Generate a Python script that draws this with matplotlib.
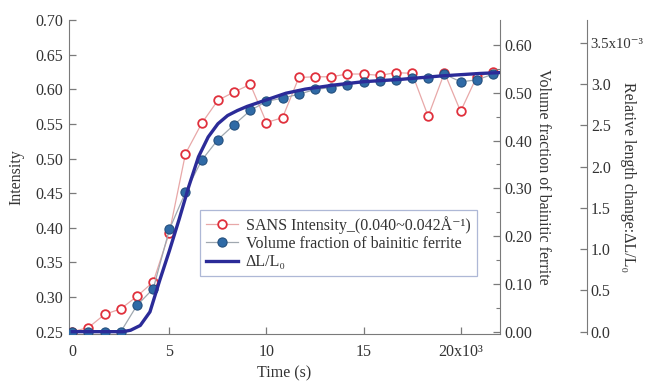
import numpy as np
import matplotlib.pyplot as plt

plt.rcParams['font.family'] = ['Liberation Serif', 'DejaVu Serif']
plt.rcParams['mathtext.fontset'] = 'stix'

# time in 10^3 s
time = [0.0, 0.83, 1.67, 2.5, 3.33, 4.17, 5.0, 5.83, 6.67, 7.5, 8.33, 9.17, 10.0,
        10.83, 11.67, 12.5, 13.33, 14.17, 15.0, 15.83, 16.67, 17.5, 18.33, 19.17,
        20.0, 20.83, 21.67]

# SANS intensity (left axis)
sans = [0.250, 0.256, 0.275, 0.283, 0.301, 0.322, 0.393, 0.507, 0.551, 0.584, 0.596,
        0.607, 0.552, 0.559, 0.617, 0.618, 0.618, 0.622, 0.622, 0.620, 0.624, 0.623,
        0.561, 0.624, 0.568, 0.618, 0.625]

# volume fraction of bainitic ferrite (first right axis)
vfrac = [0.000, 0.000, 0.000, 0.000, 0.055, 0.090, 0.214, 0.292, 0.359, 0.402, 0.433,
         0.463, 0.482, 0.489, 0.497, 0.507, 0.511, 0.517, 0.523, 0.524, 0.526, 0.530,
         0.531, 0.539, 0.523, 0.527, 0.539]

# dilatometry dL/L0 in 10^-3 (second right axis)
dl_time = [0.0, 2.6, 3.0, 3.5, 4.0, 4.5, 5.0, 5.5, 6.0, 6.5, 7.0, 7.5, 8.0, 8.5, 9.0,
           10.0, 11.0, 12.0, 13.5, 15.0, 17.0, 19.0, 21.0, 22.0]
dl = [0.0, 0.0, 0.017, 0.075, 0.24, 0.62, 0.98, 1.36, 1.76, 2.12, 2.36, 2.52, 2.62,
      2.68, 2.73, 2.81, 2.89, 2.94, 2.99, 3.03, 3.06, 3.10, 3.13, 3.14]

x_labels = ['0', '5', '10', '15', '20x10³']
dl_labels = ['0.0', '0.5', '1.0', '1.5', '2.0', '2.5', '3.0', '3.5x10⁻³']

spine_col = '#7a7a7a'
text_col = '#333333'
fs = 11.5

fig = plt.figure(figsize=(6.46, 3.83), dpi=100)
ax = fig.add_axes([0.1068, 0.128, 0.6672, 0.8198])
ax2 = ax.twinx()
ax3 = ax.twinx()

l1, = ax.plot(time, sans, '-', color='#e8a8a8', lw=0.9, marker='o', ms=6.2,
              mfc='white', mec='#e0303c', mew=1.3, zorder=3)
l2, = ax2.plot(time, vfrac, '-', color='#a0a8b0', lw=0.9, marker='o', ms=6.6,
               mfc='#2f6aa6', mec='#24507e', mew=0.8, zorder=3)
l3, = ax3.plot(dl_time, dl, '-', color='#2b2b98', lw=2.4, zorder=4)

ax.set_xlim(-0.17, 22.03)
ax.set_ylim(0.2467, 0.70)
ax2.set_ylim(-0.0048, 0.6524)
ax3.set_ylim(-0.028, 3.778)

ax.set_xticks([0, 5, 10, 15, 20])
ax.set_xticklabels(x_labels)
ax.set_yticks(np.arange(0.25, 0.701, 0.05))
ax.set_yticklabels(['%.2f' % v for v in np.arange(0.25, 0.701, 0.05)])
ax2.set_yticks(np.arange(0.0, 0.61, 0.1))
ax2.set_yticklabels(['%.2f' % v for v in np.arange(0.0, 0.61, 0.1)])
ax2.set_yticks(np.arange(0.05, 0.61, 0.1), minor=True)
ax3.set_yticks(np.arange(0.0, 3.51, 0.5))
ax3.set_yticklabels(dl_labels)

for a in (ax, ax2, ax3):
    for s in a.spines.values():
        s.set_visible(False)
        s.set_color(spine_col)
ax.spines['left'].set_visible(True)
ax.spines['bottom'].set_visible(True)
ax2.spines['right'].set_visible(True)
ax3.spines['right'].set_visible(True)
ax3.spines['right'].set_position(('axes', 1.201))

ax.tick_params(axis='x', direction='in', length=5, width=0.9, color=spine_col,
               labelcolor=text_col, labelsize=fs, pad=7)
ax.tick_params(axis='y', direction='in', length=5, width=0.9, color=spine_col,
               labelcolor=text_col, labelsize=fs, pad=4)
for a in (ax2, ax3):
    a.tick_params(axis='y', which='major', direction='in', length=5, width=0.9,
                  color=spine_col, labelcolor=text_col, labelsize=fs, pad=3)
ax2.tick_params(axis='y', which='minor', direction='in', length=3, width=0.8,
                color=spine_col)
# the top label sits right at the figure edge, as in the original
ax3.get_yticklabels()[-1].set_fontsize(10.6)

ax.set_xlabel('Time (s)', fontsize=fs, color=text_col)
ax.xaxis.set_label_coords(0.5, -0.10)
ax.set_ylabel('Intensity', fontsize=fs, color=text_col)
ax.yaxis.set_label_coords(-0.104, 0.5)
ax2.set_ylabel('Volume fraction of bainitic ferrite', fontsize=fs, color=text_col,
               rotation=-90, va='center', ha='center')
ax2.yaxis.set_label_coords(1.10, 0.5)
ax3.set_ylabel('Relative length change:ΔL/L₀', fontsize=fs, color=text_col,
               rotation=-90, va='center', ha='center')
ax3.yaxis.set_label_coords(1.297, 0.5)

leg = ax3.legend([l1, l2, l3],
                 ['SANS Intensity_(0.040~0.042Å⁻¹)',
                  'Volume fraction of bainitic ferrite',
                  'ΔL/L₀'],
                 loc='lower left', bbox_to_anchor=(0.304, 0.185, 0.643, 0.213),
                 mode='expand', fontsize=fs, frameon=True, fancybox=False,
                 borderaxespad=0, handlelength=2.0, handletextpad=0.5,
                 labelspacing=0.15, borderpad=0.35)
leg.get_frame().set_edgecolor('#9aa6cc')
leg.get_frame().set_linewidth(0.9)
for t in leg.get_texts():
    t.set_color(text_col)

fig.savefig('out.png', dpi=100)
